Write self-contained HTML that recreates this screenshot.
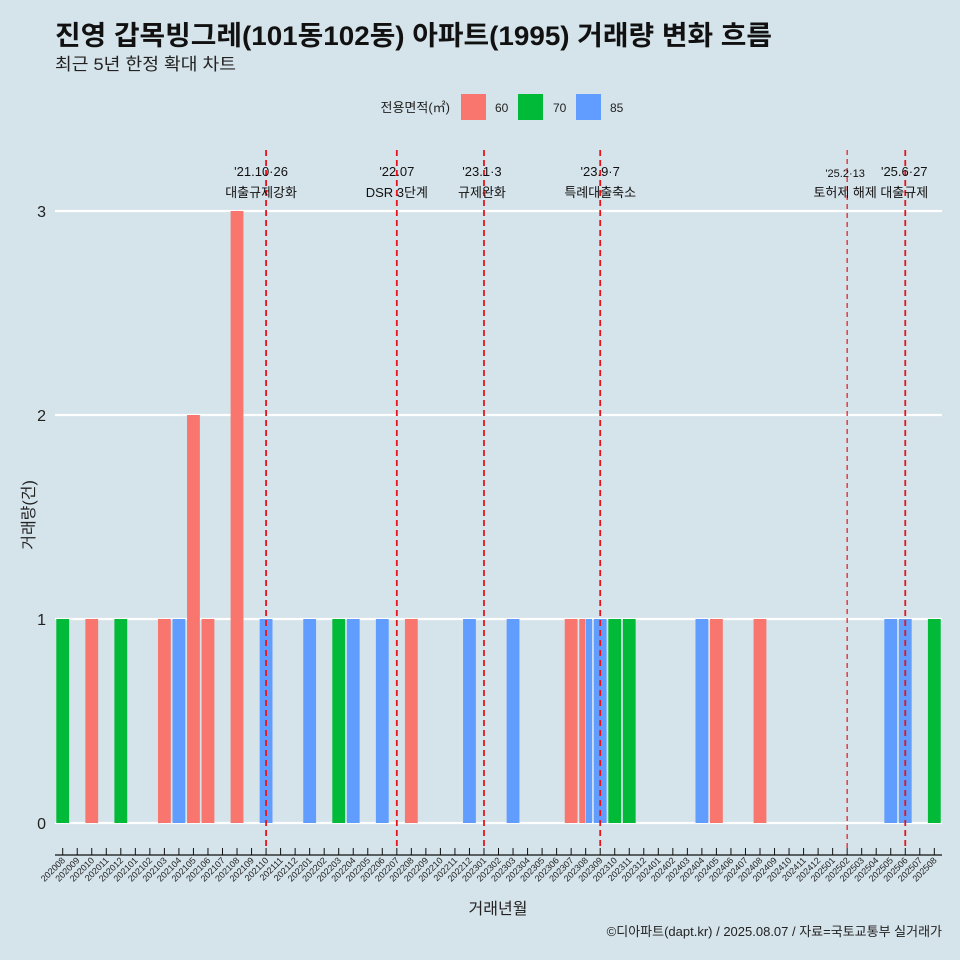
<!DOCTYPE html>
<html><head><meta charset="utf-8"><style>
body{margin:0;background:#d5e3ea;}
svg{display:block;font-family:"Liberation Sans","Noto Sans CJK KR",sans-serif;}
</style></head><body>
<svg id="c" width="960" height="960" viewBox="0 0 960 960">
<rect width="960" height="960" fill="#d5e3ea"/>
<text x="55" y="45" font-size="27" font-weight="bold" fill="#111" textLength="717" lengthAdjust="spacingAndGlyphs">진영 갑목빙그레(101동102동) 아파트(1995) 거래량 변화 흐름</text>
<text x="55" y="70" font-size="17" fill="#222" textLength="181" lengthAdjust="spacingAndGlyphs">최근 5년 한정 확대 차트</text>
<g>
<text x="450" y="112" font-size="13" text-anchor="end" fill="#222">전용면적(㎡)</text>
<rect x="461" y="94" width="25" height="26" fill="#f8766d"/>
<text x="495" y="112" font-size="12" fill="#222">60</text>
<rect x="518" y="94" width="25" height="26" fill="#00ba38"/>
<text x="553" y="112" font-size="12" fill="#222">70</text>
<rect x="576" y="94" width="25" height="26" fill="#619cff"/>
<text x="610" y="112" font-size="12" fill="#222">85</text>
</g>
<g id="grid"></g><g id="bars"></g><g id="vlines"></g><g id="xaxis"></g>
<text x="0" y="0" font-size="16" fill="#222" text-anchor="middle" transform="translate(34 515) rotate(-90)">거래량(건)</text>
<text x="498" y="914" font-size="16" fill="#222" text-anchor="middle">거래년월</text>
<text x="942" y="936" font-size="13" fill="#222" text-anchor="end">©디아파트(dapt.kr) / 2025.08.07 / 자료=국토교통부 실거래가</text>
</svg>
<script>
const months=[];
for(let y=2020;y<=2025;y++)for(let m=1;m<=12;m++){const k=y*100+m;if(k>=202008&&k<=202508)months.push(String(k));}
const barMonths=["202008","202010","202012","202103","202104","202105","202106","202108","202110","202201","202203","202204","202206","202208","202212","202303","202307","202308","202308","202309","202310","202311","202404","202405","202408","202505","202506","202508"];
const barTypes=["70","60","70","60","85","60","60","60","85","85","70","85","85","60","85","85","60","60","85","85","70","70","85","60","60","85","85","70"];
const barValues=[1,1,1,1,1,2,1,3,1,1,1,1,1,1,1,1,1,1,1,1,1,1,1,1,1,1,1,1];
const yTicks=[0,1,2,3];
const eventMonths=["202110","202207","202301","202309","202502","202506"];
const eventDates=["'21.10·26","'22.07","'23.1·3","'23.9·7","'25.2·13","'25.6·27"];
const eventLabels=["대출규제강화","DSR 3단계","규제완화","특례대출축소","토허제 해제","대출규제"];
const colors={"60":"#f8766d","70":"#00ba38","85":"#619cff"};
const NS="http://www.w3.org/2000/svg";
const x0=62.7,step=14.527,yBase=823,yUnit=204,barW=13.4;
const xs=i=>x0+i*step;
const ys=v=>yBase-v*yUnit;
function mk(t,a,p){const e=document.createElementNS(NS,t);for(const k in a)e.setAttribute(k,a[k]);p.appendChild(e);return e;}
const grid=document.getElementById('grid');
yTicks.forEach(v=>{
 const l=mk('line',{x1:55,x2:942,y1:ys(v),y2:ys(v),stroke:'#fff','stroke-width':2.2},grid);
 
 
 const t=mk('text',{x:46,y:ys(v)+6,'font-size':16,'text-anchor':'end',fill:'#222'},grid);
 t.textContent=v;
 
 
});
const bars=document.getElementById('bars');
barMonths.forEach((m,i)=>{
 const idx=months.indexOf(m);
 const group=[];barMonths.forEach((mm,j)=>{if(mm===m)group.push(j);});
 const n=group.length,k=group.indexOf(i);
 const w=barW/n;
 const left=xs(idx)-barW/2+k*w;
 const r=mk('rect',{x:left+0.3,y:ys(barValues[i]),width:w-0.6,height:ys(0)-ys(barValues[i]),fill:colors[barTypes[i]]},bars);
 
 
});
const vl=document.getElementById('vlines');
eventMonths.forEach((m,i)=>{
 const x=xs(months.indexOf(m));
 const thin=m==="202502";
 const l=mk('line',{x1:x,x2:x,y1:150,y2:848,stroke:'#e8141c','stroke-width':thin?1.2:1.8,'stroke-dasharray':thin?'5 4':'6 4'},vl);
 
 
 let cx=x;
 if(m==="202110")cx=x-5;
 if(m==="202301")cx=x-2;
 if(m==="202502")cx=x-2;
 if(m==="202506")cx=x-1;
 const t1=mk('text',{x:cx,y:thin?177:176,'font-size':thin?11:13,'text-anchor':'middle',fill:'#111'},vl);
 t1.textContent=eventDates[i];
 
 
 const t2=mk('text',{x:cx,y:197,'font-size':13,'text-anchor':'middle',fill:'#111'},vl);
 t2.textContent=eventLabels[i];
 
 
});
const xa=document.getElementById('xaxis');
const al=mk('line',{x1:55,x2:942,y1:855,y2:855,stroke:'#111','stroke-width':1.2},xa);


months.forEach((m,i)=>{
 const x=xs(i);
 const tk=mk('line',{x1:x,x2:x,y1:848,y2:855,stroke:'#111','stroke-width':1},xa);
 
 
 const t=mk('text',{x:x+3,y:861,'font-size':9,'text-anchor':'end',fill:'#222',transform:`rotate(-45 ${x+3} 861)`},xa);
 t.textContent=m;
 
 
});
</script>
</body></html>
